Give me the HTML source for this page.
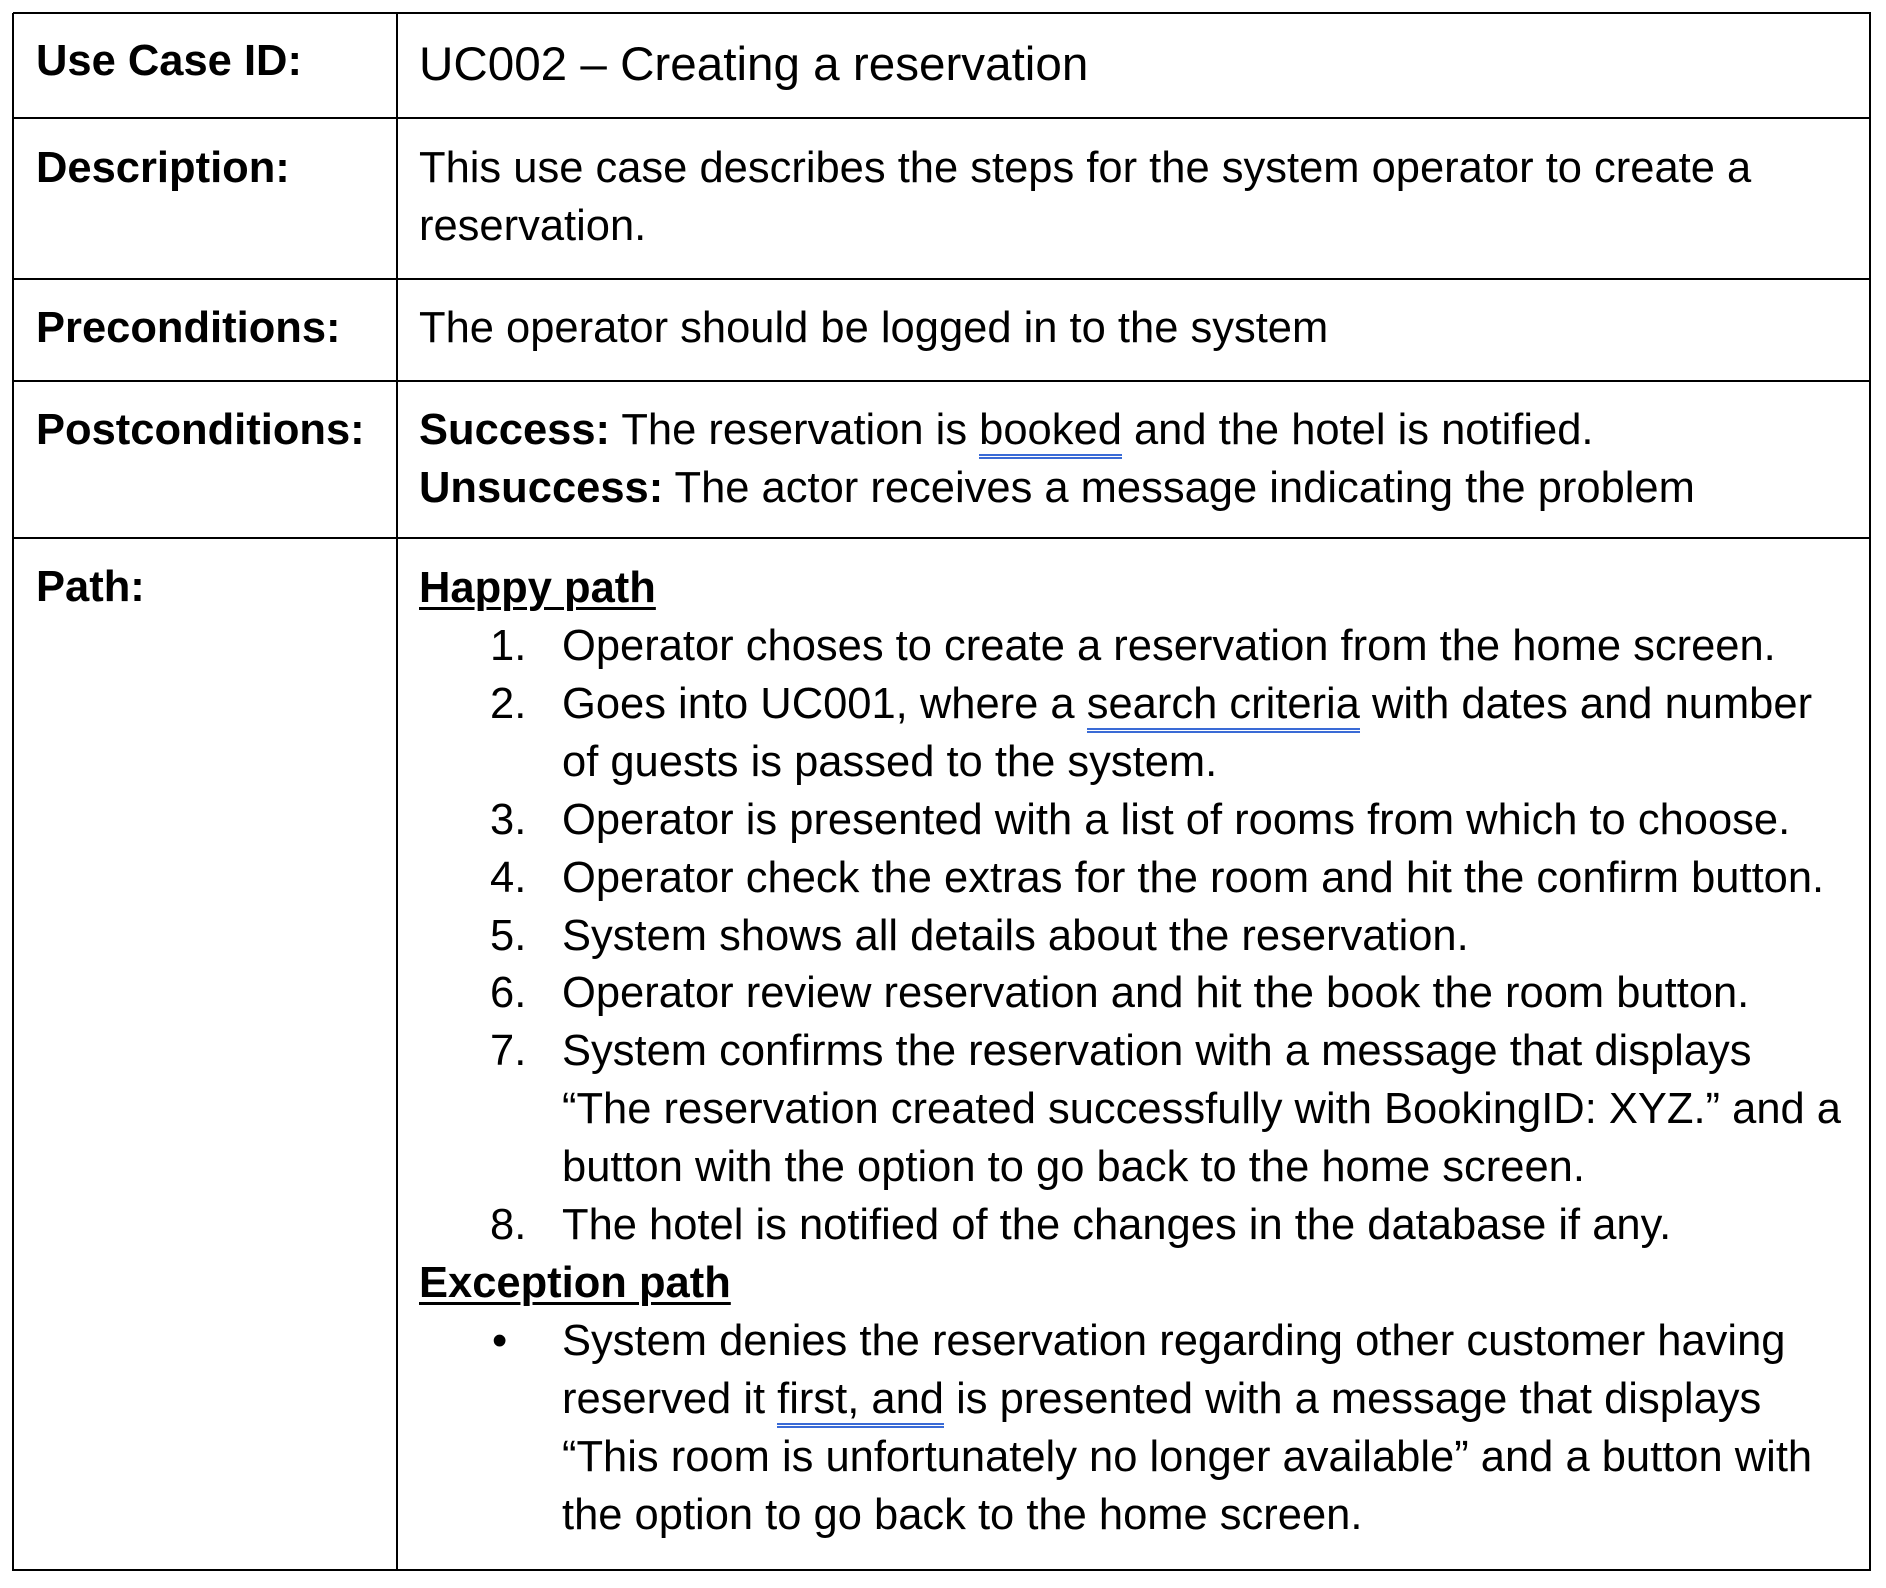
<!DOCTYPE html>
<html><head><meta charset="utf-8"><style>
html,body{margin:0;padding:0;background:#fff;}
body{width:1886px;height:1588px;position:relative;overflow:hidden;font-family:"Liberation Sans",Arial,sans-serif;color:#000;}
.l{position:absolute;white-space:nowrap;font-size:43.5px;line-height:58px;}
.b{font-weight:bold;}
.h{position:absolute;background:#000;height:2px;left:13px;width:1858px;}
.v{position:absolute;background:#000;width:2px;top:13px;height:1558px;}
.u{text-decoration:underline;text-decoration-thickness:3px;text-underline-offset:5px;}
.w{border-bottom:5px double #3a6bd6;padding-bottom:0px;}
</style></head><body>
<div class="h" style="top:12px"></div>
<div class="h" style="top:117px"></div>
<div class="h" style="top:278px"></div>
<div class="h" style="top:380px"></div>
<div class="h" style="top:537px"></div>
<div class="h" style="top:1569px"></div>
<div class="v" style="left:12px"></div>
<div class="v" style="left:396px"></div>
<div class="v" style="left:1869px"></div>

<div class="l b" style="left:36px;top:32px">Use Case ID:</div>
<div class="l" style="left:419px;top:36px;font-size:47.6px">UC002 – Creating a reservation</div>

<div class="l b" style="left:36px;top:139px">Description:</div>
<div class="l" style="left:419px;top:139px">This use case describes the steps for the system operator to create a</div>
<div class="l" style="left:419px;top:197px">reservation.</div>

<div class="l b" style="left:36px;top:299px">Preconditions:</div>
<div class="l" style="left:419px;top:299px">The operator should be logged in to the system</div>

<div class="l b" style="left:36px;top:401px">Postconditions:</div>
<div class="l" style="left:419px;top:401px"><b>Success:</b> The reservation is <span class="w">booked</span> and the hotel is notified.</div>
<div class="l" style="left:419px;top:459px"><b>Unsuccess:</b> The actor receives a message indicating the problem</div>

<div class="l b" style="left:36px;top:558px">Path:</div>
<div class="l b u" style="left:419px;top:559px">Happy path</div>
<div class="l" style="left:490px;top:617px">1.</div><div class="l" style="left:562px;top:617px">Operator choses to create a reservation from the home screen.</div>
<div class="l" style="left:490px;top:675px">2.</div><div class="l" style="left:562px;top:675px">Goes into UC001, where a <span class="w">search criteria</span> with dates and number</div>
<div class="l" style="left:562px;top:733px">of guests is passed to the system.</div>
<div class="l" style="left:490px;top:791px">3.</div><div class="l" style="left:562px;top:791px">Operator is presented with a list of rooms from which to choose.</div>
<div class="l" style="left:490px;top:849px">4.</div><div class="l" style="left:562px;top:849px">Operator check the extras for the room and hit the confirm button.</div>
<div class="l" style="left:490px;top:907px">5.</div><div class="l" style="left:562px;top:907px">System shows all details about the reservation.</div>
<div class="l" style="left:490px;top:964px">6.</div><div class="l" style="left:562px;top:964px">Operator review reservation and hit the book the room button.</div>
<div class="l" style="left:490px;top:1022px">7.</div><div class="l" style="left:562px;top:1022px">System confirms the reservation with a message that displays</div>
<div class="l" style="left:562px;top:1080px">“The reservation created successfully with BookingID: XYZ.” and a</div>
<div class="l" style="left:562px;top:1138px">button with the option to go back to the home screen.</div>
<div class="l" style="left:490px;top:1196px">8.</div><div class="l" style="left:562px;top:1196px">The hotel is notified of the changes in the database if any.</div>
<div class="l b u" style="left:419px;top:1254px">Exception path</div>
<div class="l" style="left:492px;top:1312px">•</div><div class="l" style="left:562px;top:1312px">System denies the reservation regarding other customer having</div>
<div class="l" style="left:562px;top:1370px">reserved it <span class="w">first, and</span> is presented with a message that displays</div>
<div class="l" style="left:562px;top:1428px">“This room is unfortunately no longer available” and a button with</div>
<div class="l" style="left:562px;top:1486px">the option to go back to the home screen.</div>
</body></html>
